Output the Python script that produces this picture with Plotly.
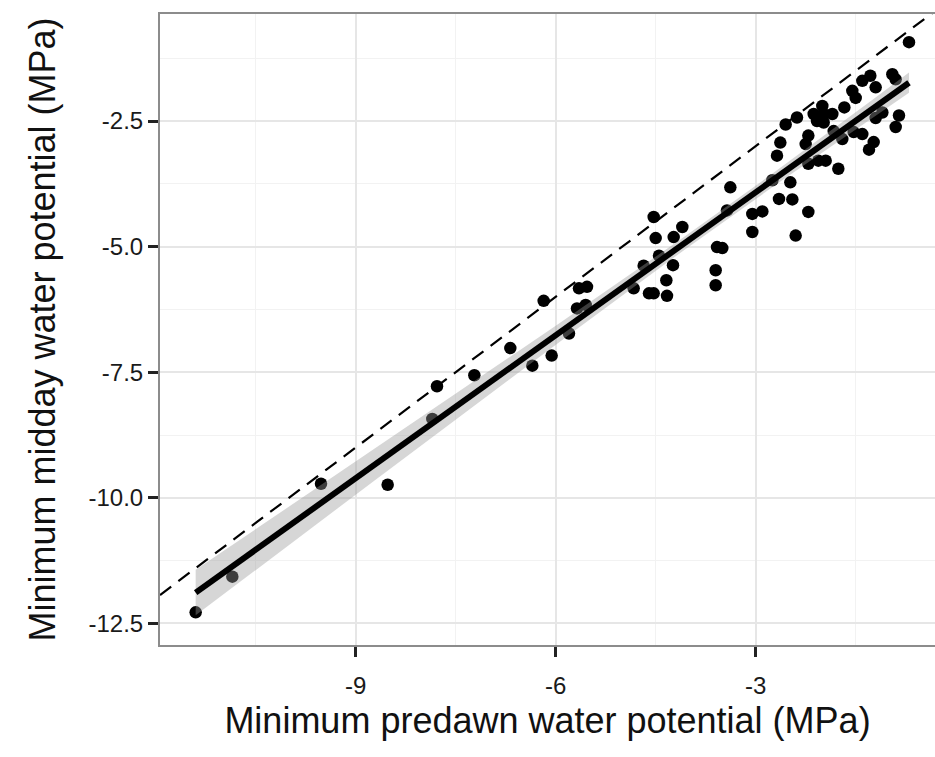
import numpy as np
import plotly.graph_objects as go

# Minimum predawn water potential (MPa)
predawn = [
    -11.40, -10.85, -9.52, -8.52, -7.85, -7.78, -7.22, -6.68, -6.35, -6.06,
    -6.18, -5.80, -5.65, -5.53, -5.68, -5.55,
    -4.83, -4.68, -4.60, -4.53, -4.53, -4.50, -4.45, -4.34, -4.33, -4.24,
    -4.23, -4.10, -3.60, -3.60, -3.58, -3.50, -3.43, -3.38, -3.05, -2.90,
    -3.05, -2.75, -2.68, -2.65, -2.63, -2.55, -2.48, -2.45, -2.40, -2.38,
    -2.25, -2.21, -2.21, -2.21, -2.13, -2.08, -2.06, -1.98, -1.95, -2.00,
    -1.85, -1.76, -1.70, -1.67, -1.55, -1.50, -1.53, -1.40, -1.40, -1.28,
    -1.20, -1.23, -1.30, -1.20, -1.10, -0.95, -0.90, -0.85, -0.90, -0.70,
    -1.98, -1.83,
]
# Minimum midday water potential (MPa)
midday = [
    -12.28, -11.57, -9.72, -9.74, -8.43, -7.78, -7.56, -7.02, -7.37, -7.17,
    -6.08, -6.73, -5.83, -5.80, -6.23, -6.16,
    -5.83, -5.38, -5.93, -5.93, -4.41, -4.83, -5.18, -5.67, -5.98, -5.37,
    -4.81, -4.61, -5.47, -5.77, -5.01, -5.03, -4.28, -3.82, -4.35, -4.30,
    -4.71, -3.68, -3.19, -4.05, -2.93, -2.57, -3.72, -4.06, -4.78, -2.43,
    -2.96, -2.79, -3.35, -4.31, -2.36, -2.50, -3.29, -2.53, -3.29, -2.20,
    -2.36, -3.45, -2.86, -2.23, -1.90, -2.04, -2.72, -2.76, -1.70, -1.60,
    -1.83, -2.92, -3.07, -2.44, -2.33, -1.57, -1.67, -2.39, -2.62, -0.93,
    -2.36, -2.70,
]

x_ticks = [-9, -6, -3]
y_ticks = [-2.5, -5.0, -7.5, -10.0, -12.5]
y_tick_text = ["-2.5", "-5.0", "-7.5", "-10.0", "-12.5"]
T975 = 1.99  # two-sided 95% t quantile for the regression band

x = np.array(predawn)
y = np.array(midday)
n = len(x)
b, a = np.polyfit(x, y, 1)
resid = y - (a + b * x)
s = np.sqrt(np.sum(resid ** 2) / (n - 2))
xbar = x.mean()
sxx = np.sum((x - xbar) ** 2)
xs = np.linspace(x.min(), x.max(), 80)
fit = a + b * xs
se = s * np.sqrt(1.0 / n + (xs - xbar) ** 2 / sxx)
upper = fit + T975 * se
lower = fit - T975 * se

xr = [-11.935, -0.31]
yr = [-12.93, -0.37]

fig = go.Figure()
fig.add_trace(go.Scatter(x=predawn, y=midday, mode="markers",
                         marker=dict(color="black", size=12.5, line=dict(width=0)),
                         showlegend=False, hoverinfo="skip"))
fig.add_trace(go.Scatter(x=np.concatenate([xs, xs[::-1]]),
                         y=np.concatenate([upper, lower[::-1]]),
                         fill="toself", fillcolor="rgba(153,153,153,0.4)",
                         line=dict(width=0), mode="lines",
                         showlegend=False, hoverinfo="skip"))
fig.add_trace(go.Scatter(x=xs, y=fit, mode="lines",
                         line=dict(color="black", width=6),
                         showlegend=False, hoverinfo="skip"))
fig.add_trace(go.Scatter(x=xr, y=xr, mode="lines",
                         line=dict(color="black", width=2.2, dash="14px,9px"),
                         showlegend=False, hoverinfo="skip"))

font_family = "Liberation Sans, Arial, Helvetica, sans-serif"
fig.update_layout(
    width=935, height=757,
    margin=dict(l=160, r=0, t=14, b=112),
    paper_bgcolor="white", plot_bgcolor="white",
    font=dict(family=font_family, color="#1a1a1a"),
    showlegend=False,
)
fig.update_xaxes(
    range=xr, tickvals=x_ticks, ticktext=[str(v) for v in x_ticks],
    showgrid=True, gridcolor="#e6e6e6", gridwidth=1.5,
    minor=dict(dtick=1.5, tick0=0, showgrid=True, gridcolor="#f2f2f2", gridwidth=1.2, ticks=""),
    zeroline=False,
    showline=True, linecolor="#8c8c8c", linewidth=2, mirror=True,
    ticks="outside", ticklen=10, tickwidth=2.5, tickcolor="#222222",
    ticklabelstandoff=8,
    tickfont=dict(size=24, color="#1a1a1a"),
    title=dict(text="Minimum predawn water potential (MPa)", font=dict(size=36, color="#111111"), standoff=10),
)
fig.update_yaxes(
    range=yr, tickvals=y_ticks, ticktext=y_tick_text,
    showgrid=True, gridcolor="#e6e6e6", gridwidth=1.5,
    minor=dict(dtick=1.25, tick0=0, showgrid=True, gridcolor="#f2f2f2", gridwidth=1.2, ticks=""),
    zeroline=False,
    showline=True, linecolor="#8c8c8c", linewidth=2,
    ticks="outside", ticklen=10, tickwidth=2.5, tickcolor="#222222",
    tickfont=dict(size=24, color="#1a1a1a"),
    title=dict(text="Minimum midday water potential (MPa)", font=dict(size=36, color="#111111"), standoff=22),
)

fig.write_html("out.html")
